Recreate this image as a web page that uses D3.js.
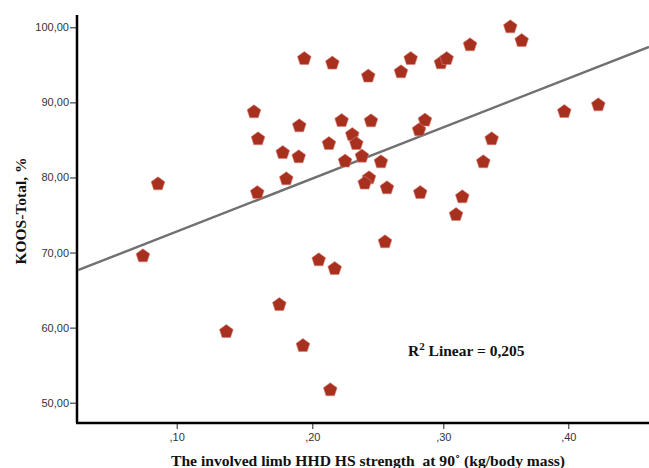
<!DOCTYPE html>
<html>
<head>
<meta charset="utf-8">
<script src="https://cdn.jsdelivr.net/npm/d3@7"></script>
<style>
  body { margin: 0; background: #fff; }
  svg { display: block; }
</style>
</head>
<body>
<svg id="chart" width="649" height="468"></svg>
<script>
// HHD HS strength (kg/body mass) vs KOOS-Total (%)
const strength = [
  0.0862, 0.0751, 0.1941, 0.2153, 0.2427, 0.2677, 0.2751, 0.2982, 0.3027, 0.1570,
  0.2224, 0.2448, 0.2860, 0.2815, 0.1904, 0.1600, 0.2305, 0.2336, 0.2127, 0.1782,
  0.1900, 0.2379, 0.2250, 0.2524, 0.1808, 0.2433, 0.2400, 0.2570, 0.1594, 0.2824,
  0.2555, 0.2049, 0.2171, 0.1757, 0.1366, 0.1931, 0.2137, 0.3536, 0.3627, 0.3214,
  0.3968, 0.4240, 0.3387, 0.3320, 0.3152, 0.3102
];
const koos = [
  79.26, 69.67, 95.95, 95.34, 93.61, 94.18, 95.95, 95.38, 95.95, 88.85,
  87.69, 87.65, 87.75, 86.45, 86.99, 85.26, 85.83, 84.63, 84.63, 83.43,
  82.86, 82.95, 82.29, 82.19, 79.93, 80.06, 79.36, 78.73, 78.10, 78.10,
  71.54, 69.14, 67.98, 63.19, 59.59, 57.73, 51.83, 100.17, 98.35, 97.78,
  88.89, 89.78, 85.26, 82.19, 77.53, 75.17
];

const xTicks = [0.1, 0.2, 0.3, 0.4];
const yTicks = [50, 60, 70, 80, 90, 100];

// linear fit shown on the chart
const fitIntercept = 65.8;
const fitSlope = 68;
const r2Text = "0,205";

const svg = d3.select("#chart");

const plotLeft = 77, plotRight = 649, plotTop = 15, plotBottom = 423;

// the tick spacing in the picture is slightly uneven, so use a polylinear scale
const x = d3.scaleLinear()
  .domain(xTicks)
  .range([176.7, 312.3, 443.3, 568.3]);

const y = d3.scaleLinear()
  .domain([50, 100])
  .range([402.7, 27.3]);

const commaFmt = d => d3.format(".2f")(d).replace(".", ",");

// y axis
const yAxis = svg.append("g")
  .attr("transform", `translate(${plotLeft - 1}, 0)`)
  .call(d3.axisLeft(y).tickValues(yTicks).tickSize(6).tickPadding(1).tickFormat(commaFmt));
yAxis.select(".domain").remove();
yAxis.selectAll("text")
  .attr("font-family", "Liberation Sans, Arial, sans-serif")
  .attr("font-size", 11)
  .attr("fill", "#333");
yAxis.selectAll("line").attr("stroke", "#222");

// x axis
const xAxis = svg.append("g")
  .attr("transform", `translate(0, ${plotBottom})`)
  .call(d3.axisBottom(x).tickValues(xTicks).tickSize(6).tickPadding(4)
    .tickFormat(d => d3.format(".2f")(d).replace("0.", ",")));
xAxis.select(".domain").remove();
xAxis.selectAll("text")
  .attr("font-family", "Liberation Sans, Arial, sans-serif")
  .attr("font-size", 11)
  .attr("fill", "#333");
xAxis.selectAll("line").attr("stroke", "#222");

// thick axis lines
svg.append("line")
  .attr("x1", plotLeft).attr("x2", plotLeft)
  .attr("y1", plotTop).attr("y2", plotBottom)
  .attr("stroke", "#000").attr("stroke-width", 2.5);
svg.append("line")
  .attr("x1", plotLeft - 1).attr("x2", plotRight)
  .attr("y1", plotBottom).attr("y2", plotBottom)
  .attr("stroke", "#000").attr("stroke-width", 2.5);

// regression line across the plot
const xMin = x.invert(plotLeft + 1), xMax = x.invert(plotRight);
svg.append("line")
  .attr("x1", x(xMin)).attr("y1", y(fitIntercept + fitSlope * xMin))
  .attr("x2", x(xMax)).attr("y2", y(fitIntercept + fitSlope * xMax))
  .attr("stroke", "#707070")
  .attr("stroke-width", 2.4);

// pentagon markers
const pentagon = (() => {
  const r = 7.2;
  const pts = d3.range(5).map(i => {
    const a = -Math.PI / 2 + i * 2 * Math.PI / 5;
    return [r * Math.cos(a), r * Math.sin(a) + 1];
  });
  return "M" + pts.map(p => p.join(",")).join("L") + "Z";
})();

svg.append("g")
  .selectAll("path")
  .data(d3.range(strength.length))
  .join("path")
  .attr("d", pentagon)
  .attr("transform", i => `translate(${x(strength[i])}, ${y(koos[i])})`)
  .attr("fill", "#a8301f")
  .attr("stroke", "#d9837a")
  .attr("stroke-width", 0.6);

// R squared label
const r2 = svg.append("text")
  .attr("x", 408)
  .attr("y", 356)
  .attr("font-family", "Liberation Serif, Times New Roman, serif")
  .attr("font-weight", "bold")
  .attr("font-size", 15.5)
  .attr("fill", "#111");
r2.append("tspan").text("R");
r2.append("tspan").attr("dy", -6).attr("font-size", 11).text("2");
r2.append("tspan").attr("dy", 6).text(" Linear = " + r2Text);

// axis titles
svg.append("text")
  .attr("x", 368)
  .attr("y", 466)
  .attr("text-anchor", "middle")
  .attr("font-family", "Liberation Serif, Times New Roman, serif")
  .attr("font-weight", "bold")
  .attr("font-size", 15.6)
  .attr("fill", "#111")
  .text("The involved limb HHD HS strength\u00a0 at 90\u02da (kg/body mass)");

svg.append("text")
  .attr("transform", "translate(26, 211) rotate(-90)")
  .attr("text-anchor", "middle")
  .attr("font-family", "Liberation Serif, Times New Roman, serif")
  .attr("font-weight", "bold")
  .attr("font-size", 15.5)
  .attr("fill", "#111")
  .text("KOOS-Total, %");
</script>
</body>
</html>
